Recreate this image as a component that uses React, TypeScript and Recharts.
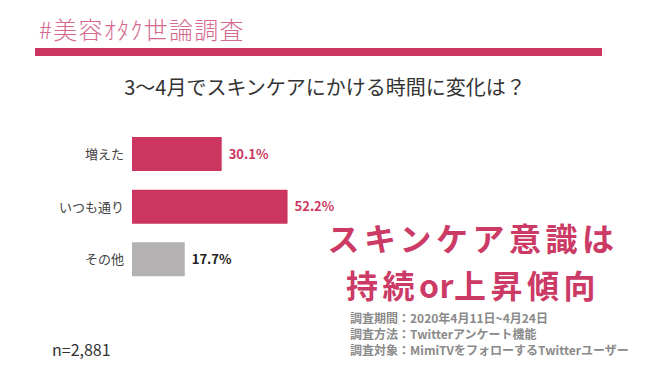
import { BarChart, Bar, XAxis, YAxis, Cell, LabelList } from "recharts"

// 回答カテゴリと割合
const categories = ["増えた", "いつも通り", "その他"]
const shares = [30.1, 52.2, 17.7]
const barColors = ["#cc3560", "#cc3560", "#b3b1b2"]
const labelColors = ["#cc3560", "#cc3560", "#222222"]

const data = categories.map((name, i) => ({ name, value: shares[i] }))

const headline = ["スキンケア意識は", "持続or上昇傾向"]

const notes = [
  "調査期間：2020年4月11日~4月24日",
  "調査方法：Twitterアンケート機能",
  "調査対象：MimiTVをフォローするTwitterユーザー",
]

const font = '"Noto Sans CJK JP", "Noto Sans", sans-serif'

const ValueLabel = (props: any) => {
  const { x, y, width, height, value, index } = props
  return (
    <text
      x={x + width + 7}
      y={y + height / 2 + 1}
      dominantBaseline="middle"
      fill={labelColors[index]}
      fontSize={13}
      fontWeight={700}
      fontFamily={font}
    >
      {value.toFixed(1)}%
    </text>
  )
}

// 半角英字は詰めて表示
const Headline = ({ text }: { text: string }) => (
  <>
    {text.split(/([a-z]+)/).map((part, i) =>
      /^[a-z]+$/.test(part) ? (
        <span key={i} style={{ letterSpacing: 0.5 }}>
          {part}
        </span>
      ) : (
        <span key={i}>{part}</span>
      )
    )}
  </>
)

export default function App() {
  return (
    <div
      style={{
        position: "absolute",
        left: 0,
        top: 0,
        width: 650,
        height: 378,
        background: "#fff",
        fontFamily: font,
        overflow: "hidden",
      }}
    >
      <div
        style={{
          position: "absolute",
          left: 39,
          top: 14,
          fontSize: 24,
          fontWeight: 300,
          color: "#d4688d",
          letterSpacing: 1.3,
          lineHeight: "30px",
        }}
      >
        #美容ｵﾀｸ世論調査
      </div>
      <div style={{ position: "absolute", left: 35, top: 48, width: 567, height: 8, background: "#cc3560" }} />
      <div
        style={{
          position: "absolute",
          left: 0,
          width: 650,
          top: 74,
          textAlign: "center",
          fontSize: 20,
          color: "#333",
          lineHeight: "26px",
        }}
      >
        3～4月でスキンケアにかける時間に変化は？
      </div>

      <div style={{ position: "absolute", left: 0, top: 0 }}>
        <BarChart
          width={650}
          height={378}
          data={data}
          layout="vertical"
          margin={{ top: 128, right: 220, bottom: 92, left: 0 }}
          barCategoryGap={18}
        >
          <XAxis type="number" domain={[0, 100]} hide />
          <YAxis
            type="category"
            dataKey="name"
            width={132}
            axisLine={false}
            tickLine={false}
            tick={{ fill: "#444", fontSize: 13, fontFamily: font }}
          />
          <Bar dataKey="value" barSize={34} isAnimationActive={false}>
            {data.map((d, i) => (
              <Cell key={d.name} fill={barColors[i]} />
            ))}
            <LabelList dataKey="value" content={<ValueLabel />} />
          </Bar>
        </BarChart>
      </div>

      {headline.map((line, i) => (
        <div
          key={line}
          style={{
            position: "absolute",
            left: 302,
            width: 342,
            top: 214 + i * 46.5,
            textAlign: "center",
            fontSize: 32,
            letterSpacing: 4.5,
            fontWeight: 700,
            color: "#cc3a66",
            lineHeight: "46px",
          }}
        >
          <Headline text={line} />
        </div>
      ))}

      <div
        style={{
          position: "absolute",
          left: 350,
          top: 310,
          fontSize: 12,
          fontWeight: 700,
          color: "#8a8a8a",
          lineHeight: "16px",
          whiteSpace: "nowrap",
        }}
      >
        {notes.map((n) => (
          <div key={n}>{n}</div>
        ))}
      </div>

      <div style={{ position: "absolute", left: 52, top: 339, fontSize: 16, color: "#333", lineHeight: "20px" }}>
        n=2,881
      </div>
    </div>
  )
}
